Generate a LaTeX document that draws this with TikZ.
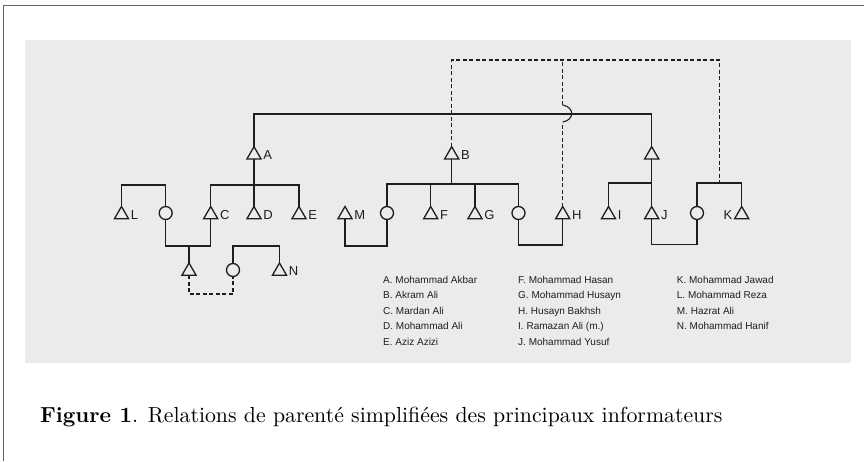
\documentclass[tikz,border=0pt]{standalone}
\usepackage{fontspec}
\newfontfamily\legendfont{Liberation Sans}
\newfontfamily\captionfont{lmroman10-regular.otf}[BoldFont=lmroman10-bold.otf]
\usetikzlibrary{shapes.geometric,calc}

\definecolor{panel}{RGB}{235,235,235}
\definecolor{ink}{RGB}{30,30,30}
\definecolor{framegray}{RGB}{100,100,100}

\begin{document}
\begin{tikzpicture}[x=1pt,y=-1pt,
  male/.style={regular polygon, regular polygon sides=3, draw=ink, line width=1.3pt,
               minimum size=16.4pt, inner sep=0pt, outer sep=0pt},
  female/.style={circle, draw=ink, line width=1.3pt, minimum size=13pt,
                 inner sep=0pt, outer sep=0pt},
  kin/.style={draw=ink, line width=1.3pt},
  link/.style={kin, dash pattern=on 4pt off 2.5pt},
  lab/.style={font=\legendfont\fontsize{13}{13}\selectfont, text=ink, inner sep=0pt},
  key/.style={font=\legendfont\fontsize{10}{10}\selectfont, text=ink, inner sep=0pt,
              anchor=base west},
]
\useasboundingbox (0,0) rectangle (864,461);

% page frame and shaded panel
\draw[framegray, line width=1.5pt] (3.5,461) -- (3.5,5.5) -- (864,5.5);
\fill[panel] (25,40) rectangle (851,363);

% levels of the connecting bars
\coordinate (top)    at (0,60);
\coordinate (main)   at (0,114);
\coordinate (hophi)  at (0,105);
\coordinate (hoplo)  at (0,122);
\coordinate (sibA)   at (0,185);
\coordinate (sibB)   at (0,184);
\coordinate (sibX)   at (0,183);
\coordinate (marL)   at (0,246);
\coordinate (marM)   at (0,246);
\coordinate (marH)   at (0,245);
\coordinate (marJ)   at (0,244.5);
\coordinate (low)    at (0,294);

% first generation
\node[male] (A) at (254,154.9) {};
\node[male] (B) at (451.7,154.9) {};
\node[male] (X) at (651.7,154.9) {};

% second generation
\node[male]   (L)  at (121.5,214.7) {};
\node[female] (cL) at (165.7,213) {};
\node[male]   (C)  at (210.7,214.7) {};
\node[male]   (D)  at (254,214.7) {};
\node[male]   (E)  at (299,214.7) {};
\node[male]   (M)  at (345,214.7) {};
\node[female] (cM) at (387,213) {};
\node[male]   (F)  at (430.7,214.7) {};
\node[male]   (G)  at (475,214.7) {};
\node[female] (cB) at (518.5,213) {};
\node[male]   (H)  at (562.7,214.7) {};
\node[male]   (I)  at (608.5,214.7) {};
\node[male]   (J)  at (651.7,214.7) {};
\node[female] (cJ) at (697,213) {};
\node[male]   (K)  at (741.7,214.7) {};

% third generation
\node[male]   (T)  at (189,271.2) {};
\node[female] (cN) at (233,270) {};
\node[male]   (N)  at (279.5,271.2) {};

% letters beside the symbols
\foreach \p in {A,B,C,D,E,F,G,H,I,J,L,M,N}
  \node[lab, anchor=base west] (l\p) at ([xshift=2pt,yshift=-0.5pt]\p.corner 3) {\p};
\node[lab, anchor=base east] (lK) at ([xshift=-2pt,yshift=-0.5pt]K.corner 2) {K};

% sibling line joining A and X
\draw[kin] (A.corner 1) -- (A.corner 1 |- main) -- (X.corner 1 |- main) -- (X.corner 1);

% children of A
\draw[kin] (A.side 2) -- (D.corner 1);
\draw[kin] (C.corner 1) -- (C.corner 1 |- sibA) -- (E.corner 1 |- sibA) -- (E.corner 1);

% L and his sister
\draw[kin] (L.corner 1) -- (L.corner 1 |- sibA) -- (cL.north |- sibA) -- (cL.north);

% marriage of C and their son
\draw[kin] (cL.south) -- (cL.south |- marL) -- (C.side 2 |- marL) -- (C.side 2);
\draw[kin] (T.corner 1) -- (T.corner 1 |- marL);
\draw[link] (T.side 2) -- (T.side 2 |- low) -- (cN.south |- low) -- (cN.south);
\draw[kin] (cN.north) -- (cN.north |- marL) -- (N.corner 1 |- marL) -- (N.corner 1);

% children of B
\draw[kin] (B.side 2) -- (B.side 2 |- sibB);
\draw[kin] (cM.north) -- (cM.north |- sibB) -- (cB.north |- sibB) -- (cB.north);
\draw[kin] (F.corner 1) -- (F.corner 1 |- sibB);
\draw[kin] (G.corner 1) -- (G.corner 1 |- sibB);
\draw[kin] (M.side 2) -- (M.side 2 |- marM) -- (cM.south |- marM) -- (cM.south);
\draw[kin] (cB.south) -- (cB.south |- marH) -- (H.side 2 |- marH) -- (H.side 2);

% children of the third brother
\draw[kin] (X.side 2) -- (J.corner 1);
\draw[kin] (I.corner 1) -- (I.corner 1 |- sibX) -- (J.corner 1 |- sibX);
\draw[kin] (J.side 2) -- (J.side 2 |- marJ) -- (cJ.south |- marJ) -- (cJ.south);
\draw[kin] (cJ.north) -- (cJ.north |- sibX) -- (K.corner 1 |- sibX) -- (K.corner 1);
\coordinate (kbar) at ($(cJ.north |- sibX)!0.5!(K.corner 1 |- sibX)$);

% dashed links across the families
\draw[link] (B.corner 1) -- (B.corner 1 |- top) -- (kbar |- top) -- (kbar);
\draw[link] (H.corner 1) -- (H.corner 1 |- hoplo);
\draw[kin, line width=1.1pt] (H.corner 1 |- hoplo)
   .. controls ($(H.corner 1 |- hoplo)+(12,-2)$) and ($(H.corner 1 |- hophi)+(12,2)$)
   .. (H.corner 1 |- hophi);
\draw[link] (H.corner 1 |- hophi) -- (H.corner 1 |- top);

% key to the letters
\node[key] (k1)  at (383,283)   {A. Mohammad Akbar};
\node[key] (k2)  at (383,298.6) {B. Akram Ali};
\node[key] (k3)  at (383,314.2) {C. Mardan Ali};
\node[key] (k4)  at (383,329.8) {D. Mohammad Ali};
\node[key] (k5)  at (383,345.4) {E. Aziz Azizi};
\node[key] (k6)  at (518,283)   {F. Mohammad Hasan};
\node[key] (k7)  at (518,298.6) {G. Mohammad Husayn};
\node[key] (k8)  at (518,314.2) {H. Husayn Bakhsh};
\node[key] (k9)  at (518,329.8) {I. Ramazan Ali (m.)};
\node[key] (k10) at (518,345.4) {J. Mohammad Yusuf};
\node[key] (k11) at (676.7,283)   {K. Mohammad Jawad};
\node[key] (k12) at (676.7,298.6) {L. Mohammad Reza};
\node[key] (k13) at (676.7,314.2) {M. Hazrat Ali};
\node[key] (k14) at (676.7,329.8) {N. Mohammad Hanif};

% caption
\node[anchor=base west, inner sep=0pt, text=black,
      font=\captionfont\fontsize{21.8}{24}\selectfont] (cap) at (40,422)
  {\textbf{Figure 1}. Relations de parenté simplifiées des principaux informateurs};
\end{tikzpicture}
\end{document}
